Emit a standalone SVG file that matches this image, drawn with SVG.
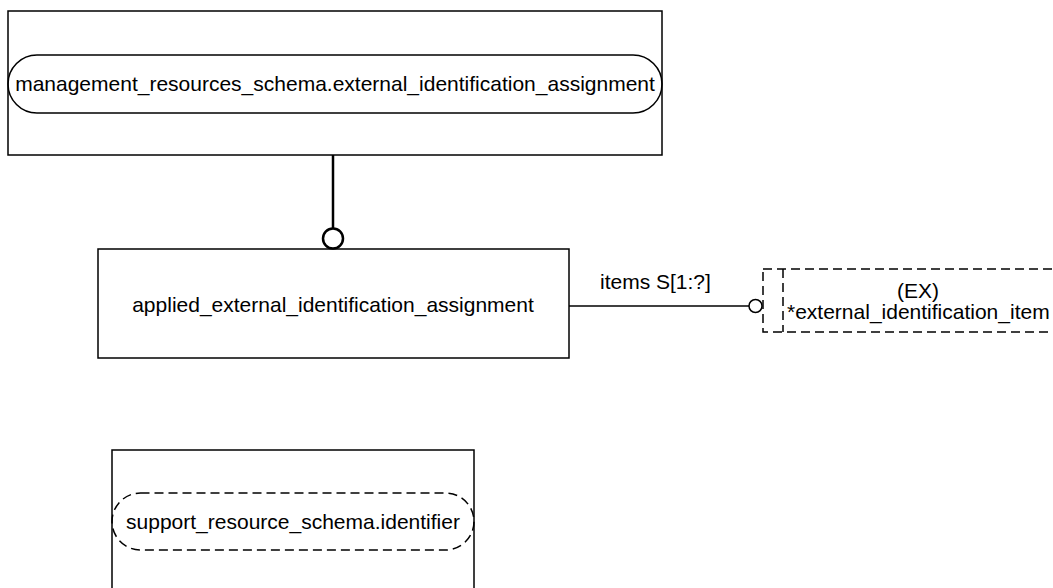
<svg xmlns="http://www.w3.org/2000/svg" width="1053" height="588" viewBox="0 0 1053 588">
<style>
.box{fill:none;stroke:#000;stroke-width:1.5}
.dash{fill:none;stroke:#000;stroke-width:1.5;stroke-dasharray:9 5}
.t{font-family:"Liberation Sans",Arial,sans-serif;font-size:21px;fill:#000}
.c{text-anchor:middle}
.ln{fill:none;stroke:#000}
</style>
<rect width="1053" height="588" fill="#fff"/>
<g id="connectors">
<line class="ln" x1="333" y1="155" x2="333" y2="228.5" stroke-width="2.5"/>
<circle class="ln" cx="333" cy="238.5" r="10" stroke-width="2.5"/>
<line class="ln" x1="569" y1="306" x2="749" y2="306" stroke-width="1.5"/>
<circle class="ln" cx="755.5" cy="306" r="6.5" stroke-width="1.5"/>
<text class="t" x="600" y="289">items S[1:?]</text>
</g>
<g id="node-mgmt">
<rect class="box" x="8" y="11" width="654" height="144"/>
<rect class="box" x="8" y="55" width="654" height="58" rx="29" ry="29"/>
<text class="t c" x="335" y="91">management_resources_schema.external_identification_assignment</text>
</g>
<g id="node-applied">
<rect class="box" x="98" y="249" width="471" height="109"/>
<text class="t c" x="333" y="312">applied_external_identification_assignment</text>
</g>
<g id="node-ext">
<rect class="dash" x="763" y="269" width="300" height="63"/>
<line class="dash" x1="783" y1="269" x2="783" y2="332"/>
<text class="t c" x="918" y="298">(EX)</text>
<text class="t" x="787" y="319">*external_identification_item</text>
</g>
<g id="node-support">
<rect class="box" x="112" y="450" width="362" height="150"/>
<rect class="dash" x="112" y="493" width="362" height="57" rx="28.5" ry="28.5"/>
<text class="t c" x="293" y="529">support_resource_schema.identifier</text>
</g>
</svg>
